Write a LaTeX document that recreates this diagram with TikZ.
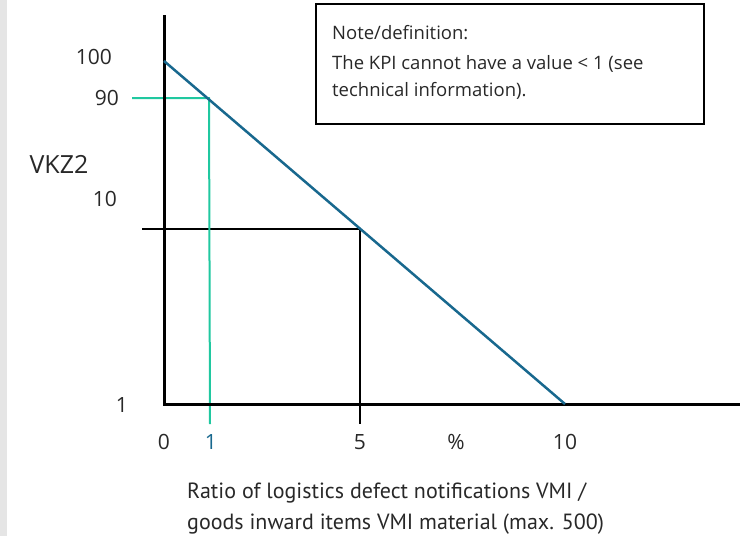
\documentclass[tikz,border=0pt]{standalone}
\usepackage{fontspec}
\setmainfont{Open Sans}
\newfontfamily\capfont{PT Sans}
\definecolor{lineblue}{RGB}{24,104,142}
\definecolor{linegreen}{RGB}{32,200,160}
\definecolor{txt}{RGB}{40,40,40}
\definecolor{strip}{RGB}{229,229,229}
\begin{document}
\begin{tikzpicture}[x=1pt,y=-1pt,
  lbl/.style={text=txt,font=\fontsize{21}{24}\selectfont,inner sep=0pt},
  boxtxt/.style={text=txt,font=\fontsize{18.5}{22}\selectfont,inner sep=0pt,anchor=base west},
  captxt/.style={text=txt,font=\capfont\fontsize{22}{25}\selectfont,inner sep=0pt,anchor=base west},
  axisline/.style={line width=3pt,black},
  thinline/.style={line width=1.5pt,black},
  greenline/.style={line width=2pt,linegreen},
  blueline/.style={line width=2.5pt,lineblue}]
\useasboundingbox (0,0) rectangle (740,536);
\fill[strip] (0,0) rectangle (7,536);
% coordinates
\coordinate (ytop) at (164,15);
\coordinate (origin) at (164,404);
\coordinate (xend) at (740,404);
\coordinate (bstart) at (164,61);
\coordinate (bend) at (565,404);
\coordinate (g0) at (132,98);
\coordinate (g1) at (209,98);
\coordinate (g2) at (210,424);
\coordinate (k0) at (142,229);
\coordinate (k1) at (360,229);
\coordinate (k2) at (360,424);
% helper lines
\draw[thinline] (k0) -- (k1) -- (k2);
\draw[greenline] (g0) -- (g1) -- (g2);
% axes
\draw[axisline,line cap=butt,line join=miter] (ytop) -- (origin) -- (xend);
% decreasing line
\draw[blueline] (bstart) -- (bend);
% note box
\node[draw=black,line width=1.5pt,minimum width=388pt,minimum height=120pt,anchor=north west,inner sep=0pt] (note) at (315,3) {};
\node[boxtxt] (n1) at (332,39) {Note/definition:};
\node[boxtxt] (n2) at (332,69) {The KPI cannot have a value < 1 (see};
\node[boxtxt] (n3) at (332,96) {technical information).};
% y labels
\node[lbl,anchor=east] (y100) at (112,57) {100};
\node[lbl,anchor=east] (y90) at (119,98) {90};
\node[lbl,font=\fontsize{25}{28}\selectfont] (vkz) at (59,164) {VKZ2};
\node[lbl,anchor=east] (y10) at (117,199) {10};
\node[lbl] (y1) at (122,405) {1};
% x labels
\node[lbl] (x0) at (164,442) {0};
\node[lbl,text=lineblue] (x1) at (211,442) {1};
\node[lbl] (x5) at (360,442) {5};
\node[lbl] (xp) at (456,442) {\%};
\node[lbl] (x10) at (565,442) {10};
% caption
\node[captxt] (c1) at (187,498) {Ratio of logistics defect notifications VMI /};
\node[captxt] (c2) at (187,529) {goods inward items VMI material (max. 500)};
\end{tikzpicture}
\end{document}
